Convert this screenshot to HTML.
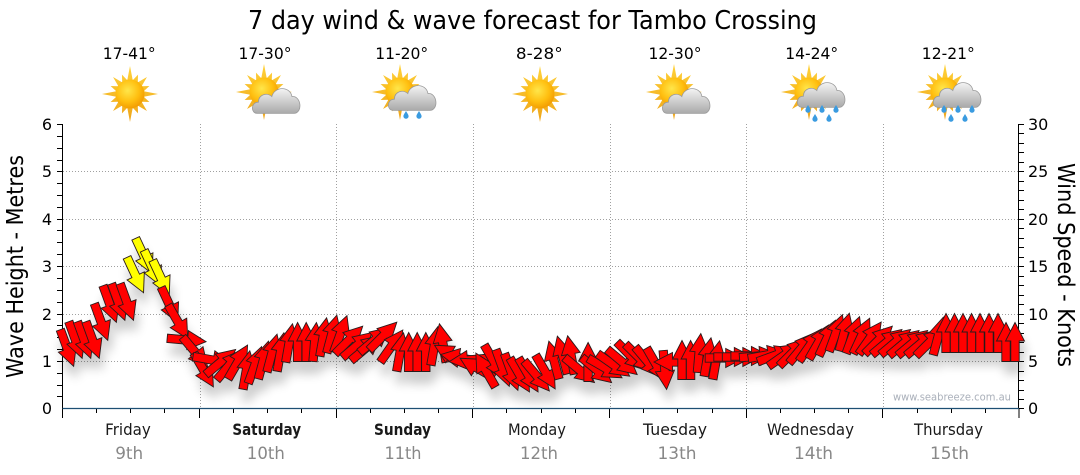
<!DOCTYPE html>
<html><head><meta charset="utf-8"><style>
html,body{margin:0;padding:0;background:#fff;}
svg{display:block;}
text{font-family:"DejaVu Sans","Liberation Sans",sans-serif;}
</style></head><body>
<svg width="1080" height="475" viewBox="0 0 1080 475" xmlns="http://www.w3.org/2000/svg">
<defs>
<polygon id="A" points="0,-19.5 9.5,-1 4.2,-1 4.2,19.5 -4.2,19.5 -4.2,-1 -9.5,-1"/>
<radialGradient id="sd" cx="0.42" cy="0.38" r="0.65">
<stop offset="0" stop-color="#ffe64a"/><stop offset="0.6" stop-color="#ffbf10"/><stop offset="1" stop-color="#f29a00"/>
</radialGradient>
<linearGradient id="ry" x1="0" y1="0" x2="0" y2="1">
<stop offset="0" stop-color="#ffd23a"/><stop offset="1" stop-color="#eea51a"/>
</linearGradient>
<linearGradient id="cl" x1="0" y1="0" x2="0" y2="1">
<stop offset="0" stop-color="#f4f4f4"/><stop offset="1" stop-color="#a9a9a9"/>
</linearGradient>
<g id="SUN">
<polygon fill="url(#ry)" points="0,-28 2.73,-13.73 8.04,-19.4 7.78,-11.64 16.97,-16.97 11.64,-7.78 19.4,-8.04 13.73,-2.73 28,0 13.73,2.73 19.4,8.04 11.64,7.78 16.97,16.97 7.78,11.64 8.04,19.4 2.73,13.73 0,28 -2.73,13.73 -8.04,19.4 -7.78,11.64 -16.97,16.97 -11.64,7.78 -19.4,8.04 -13.73,2.73 -28,0 -13.73,-2.73 -19.4,-8.04 -11.64,-7.78 -16.97,-16.97 -7.78,-11.64 -8.04,-19.4 -2.73,-13.73"/>
<circle r="14.5" fill="url(#sd)"/>
</g>
<g id="CLOUD">
<path fill="url(#cl)" stroke="#9a9a9a" stroke-width="0.7" d="M-6,20 C-12,20 -12,10 -5,10 C-5,3 3,1 7,5 C9,-4 23,-5 25,5 C33,4 35,19 27,20 Z"/>
</g>
<g id="DROP">
<path fill="#3a9be0" d="M0,-4 C1.5,-1.5 2.6,0 2.6,1.2 A2.6,2.6 0 0 1 -2.6,1.2 C-2.6,0 -1.5,-1.5 0,-4 Z"/>
</g>
<filter id="sh" filterUnits="userSpaceOnUse" x="0" y="0" width="1080" height="475">
<feGaussianBlur in="SourceAlpha" stdDeviation="5"/>
<feOffset dx="3" dy="12"/>
<feComponentTransfer><feFuncA type="linear" slope="0.2"/></feComponentTransfer>
<feMerge><feMergeNode/><feMergeNode in="SourceGraphic"/></feMerge>
</filter>
</defs>

<text x="532.5" y="29" font-size="26" text-anchor="middle" textLength="569" lengthAdjust="spacingAndGlyphs" fill="#000">7 day wind &amp; wave forecast for Tambo Crossing</text>

<g font-size="16" fill="#000" text-anchor="middle">
<text x="129.2" y="59" textLength="53" lengthAdjust="spacingAndGlyphs">17-41°</text>
<text x="265" y="59" textLength="53" lengthAdjust="spacingAndGlyphs">17-30°</text>
<text x="401.7" y="59" textLength="53" lengthAdjust="spacingAndGlyphs">11-20°</text>
<text x="539.3" y="59" textLength="46.7" lengthAdjust="spacingAndGlyphs">8-28°</text>
<text x="675" y="59" textLength="53" lengthAdjust="spacingAndGlyphs">12-30°</text>
<text x="811.7" y="59" textLength="53" lengthAdjust="spacingAndGlyphs">14-24°</text>
<text x="948.3" y="59" textLength="53" lengthAdjust="spacingAndGlyphs">12-21°</text>
</g>

<use href="#SUN" transform="translate(130,94)"/>
<use href="#SUN" transform="translate(264,92)"/><use href="#CLOUD" transform="translate(264,91) scale(1.12)"/>
<use href="#SUN" transform="translate(400,92)"/><use href="#CLOUD" transform="translate(400,88) scale(1.12)"/>
<use href="#DROP" transform="translate(406,115)"/><use href="#DROP" transform="translate(419,115)"/>
<use href="#SUN" transform="translate(540,94)"/>
<use href="#SUN" transform="translate(674,92)"/><use href="#CLOUD" transform="translate(674,91) scale(1.12)"/>
<use href="#SUN" transform="translate(809,92)"/><use href="#CLOUD" transform="translate(809,85) scale(1.12)"/>
<use href="#DROP" transform="translate(808,109)"/><use href="#DROP" transform="translate(822,109)"/><use href="#DROP" transform="translate(836,109)"/>
<use href="#DROP" transform="translate(815,118)"/><use href="#DROP" transform="translate(829,118)"/>
<use href="#SUN" transform="translate(945,92)"/><use href="#CLOUD" transform="translate(945,85) scale(1.12)"/>
<use href="#DROP" transform="translate(944,109)"/><use href="#DROP" transform="translate(958,109)"/><use href="#DROP" transform="translate(972,109)"/>
<use href="#DROP" transform="translate(951,118)"/><use href="#DROP" transform="translate(965,118)"/>

<g stroke="#a0a0a0" stroke-width="1" stroke-dasharray="1,2" fill="none">
<line x1="63" y1="361.5" x2="1018" y2="361.5"/>
<line x1="63" y1="314.5" x2="1018" y2="314.5"/>
<line x1="63" y1="266.5" x2="1018" y2="266.5"/>
<line x1="63" y1="219.5" x2="1018" y2="219.5"/>
<line x1="63" y1="171.5" x2="1018" y2="171.5"/>
<line x1="200.5" y1="124" x2="200.5" y2="408"/>
<line x1="336.5" y1="124" x2="336.5" y2="408"/>
<line x1="473.5" y1="124" x2="473.5" y2="408"/>
<line x1="610.5" y1="124" x2="610.5" y2="408"/>
<line x1="746.5" y1="124" x2="746.5" y2="408"/>
<line x1="883.5" y1="124" x2="883.5" y2="408"/>
</g>

<g stroke="#000" stroke-width="1">
<line x1="62.5" y1="124" x2="62.5" y2="418"/>
<line x1="1018.5" y1="124" x2="1018.5" y2="408"/>
<path d="M57,124.5h6M57,136.5h6M57,148.5h6M57,160.5h6M57,171.5h6M57,183.5h6M57,195.5h6M57,207.5h6M57,219.5h6M57,230.5h6M57,242.5h6M57,254.5h6M57,266.5h6M57,278.5h6M57,290.5h6M57,302.5h6M57,314.5h6M57,325.5h6M57,337.5h6M57,349.5h6M57,361.5h6M57,373.5h6M57,385.5h6M57,396.5h6"/>
<path d="M1018,124.5h6M1018,133.5h6M1018,143.5h6M1018,152.5h6M1018,162.5h6M1018,171.5h6M1018,181.5h6M1018,190.5h6M1018,200.5h6M1018,209.5h6M1018,219.5h6M1018,228.5h6M1018,238.5h6M1018,247.5h6M1018,257.5h6M1018,266.5h6M1018,276.5h6M1018,285.5h6M1018,295.5h6M1018,304.5h6M1018,314.5h6M1018,323.5h6M1018,333.5h6M1018,342.5h6M1018,352.5h6M1018,361.5h6M1018,371.5h6M1018,380.5h6M1018,390.5h6M1018,399.5h6M1018,408.5h6"/>
<path d="M199.5,408v10M336.5,408v10M472.5,408v10M609.5,408v10M746.5,408v10M882.5,408v10M1019,408v10"/>
<path d="M96.5,408v5M130.5,408v5M164.5,408v5M233.5,408v5M267.5,408v5M301.5,408v5M370.5,408v5M404.5,408v5M438.5,408v5M506.5,408v5M541.5,408v5M575.5,408v5M643.5,408v5M677.5,408v5M712.5,408v5M780.5,408v5M814.5,408v5M848.5,408v5M917.5,408v5M951.5,408v5M985.5,408v5"/>
</g>
<line x1="62.5" y1="408.5" x2="1019" y2="408.5" stroke="#1d4f73" stroke-width="1.3"/>

<g font-size="16" fill="#000" text-anchor="end">
<text x="52" y="414">0</text><text x="52" y="367">1</text><text x="52" y="320">2</text><text x="52" y="272">3</text><text x="52" y="225">4</text><text x="52" y="177">5</text><text x="52" y="130">6</text>
</g>
<g font-size="16" fill="#000" text-anchor="start">
<text x="1028" y="414">0</text><text x="1028" y="367">5</text><text x="1028" y="320">10</text><text x="1028" y="272">15</text><text x="1028" y="225">20</text><text x="1028" y="177">25</text><text x="1028" y="130">30</text>
</g>

<text transform="translate(23,266.5) rotate(-90)" font-size="23" text-anchor="middle" textLength="223" lengthAdjust="spacingAndGlyphs" fill="#000">Wave Height - Metres</text>
<text transform="translate(1058,265) rotate(90)" font-size="23" text-anchor="middle" textLength="204" lengthAdjust="spacingAndGlyphs" fill="#000">Wind Speed - Knots</text>

<text x="952" y="400.5" font-size="10.5" text-anchor="middle" textLength="118" lengthAdjust="spacingAndGlyphs" fill="#aab0ba">www.seabreeze.com.au</text>

<g font-size="16" fill="#1a1a1a" text-anchor="middle">
<text x="128" y="435" textLength="45.7" lengthAdjust="spacingAndGlyphs">Friday</text>
<text x="266.7" y="435" font-weight="bold" textLength="68.7" lengthAdjust="spacingAndGlyphs">Saturday</text>
<text x="402.5" y="435" font-weight="bold" textLength="57" lengthAdjust="spacingAndGlyphs">Sunday</text>
<text x="537" y="435" textLength="58" lengthAdjust="spacingAndGlyphs">Monday</text>
<text x="675" y="435" textLength="64" lengthAdjust="spacingAndGlyphs">Tuesday</text>
<text x="810.5" y="435" textLength="87" lengthAdjust="spacingAndGlyphs">Wednesday</text>
<text x="948.5" y="435" textLength="69" lengthAdjust="spacingAndGlyphs">Thursday</text>
</g>
<g font-size="17" fill="#888" text-anchor="middle">
<text x="129.2" y="459" textLength="28" lengthAdjust="spacingAndGlyphs">9th</text>
<text x="265.8" y="459" textLength="38" lengthAdjust="spacingAndGlyphs">10th</text>
<text x="403" y="459" textLength="37" lengthAdjust="spacingAndGlyphs">11th</text>
<text x="539" y="459" textLength="38" lengthAdjust="spacingAndGlyphs">12th</text>
<text x="677" y="459" textLength="39" lengthAdjust="spacingAndGlyphs">13th</text>
<text x="813.5" y="459" textLength="39" lengthAdjust="spacingAndGlyphs">14th</text>
<text x="949.5" y="459" textLength="39" lengthAdjust="spacingAndGlyphs">15th</text>
</g>

<g filter="url(#sh)" fill="#ff0000" stroke="#2a1a1a" stroke-width="0.9">
<use href="#A" transform="translate(67.0,348) rotate(160)"/>
<use href="#A" transform="translate(75.5,340) rotate(160)"/>
<use href="#A" transform="translate(84.1,340) rotate(160)"/>
<use href="#A" transform="translate(92.6,340) rotate(160)"/>
<use href="#A" transform="translate(101.1,322) rotate(160)"/>
<use href="#A" transform="translate(109.7,304) rotate(160)"/>
<use href="#A" transform="translate(118.2,302) rotate(160)"/>
<use href="#A" transform="translate(126.8,302) rotate(160)"/>
<use href="#A" transform="translate(135.3,275) rotate(155)" fill="#ffff00"/>
<use href="#A" transform="translate(143.9,256) rotate(155)" fill="#ffff00"/>
<use href="#A" transform="translate(152.4,268) rotate(155)" fill="#ffff00"/>
<use href="#A" transform="translate(161.0,278) rotate(155)" fill="#ffff00"/>
<use href="#A" transform="translate(169.5,305) rotate(155)"/>
<use href="#A" transform="translate(178.0,322) rotate(150)"/>
<use href="#A" transform="translate(186.6,340) rotate(95)"/>
<use href="#A" transform="translate(195.1,352) rotate(140)"/>
<use href="#A" transform="translate(203.6,370) rotate(150)"/>
<use href="#A" transform="translate(212.2,360) rotate(100)"/>
<use href="#A" transform="translate(220.7,362) rotate(50)"/>
<use href="#A" transform="translate(229.3,365) rotate(40)"/>
<use href="#A" transform="translate(237.8,362) rotate(30)"/>
<use href="#A" transform="translate(246.4,370) rotate(10)"/>
<use href="#A" transform="translate(254.9,365) rotate(20)"/>
<use href="#A" transform="translate(263.4,360) rotate(15)"/>
<use href="#A" transform="translate(272.0,353) rotate(15)"/>
<use href="#A" transform="translate(280.5,352) rotate(10)"/>
<use href="#A" transform="translate(289.1,343) rotate(10)"/>
<use href="#A" transform="translate(297.6,342) rotate(0)"/>
<use href="#A" transform="translate(306.2,342) rotate(0)"/>
<use href="#A" transform="translate(314.7,342) rotate(5)"/>
<use href="#A" transform="translate(323.2,337) rotate(10)"/>
<use href="#A" transform="translate(331.8,334) rotate(15)"/>
<use href="#A" transform="translate(340.3,334) rotate(20)"/>
<use href="#A" transform="translate(348.9,340) rotate(45)"/>
<use href="#A" transform="translate(357.4,345) rotate(50)"/>
<use href="#A" transform="translate(366.0,348) rotate(50)"/>
<use href="#A" transform="translate(374.5,340) rotate(50)"/>
<use href="#A" transform="translate(383.0,336) rotate(45)"/>
<use href="#A" transform="translate(391.6,346) rotate(35)"/>
<use href="#A" transform="translate(400.1,352) rotate(10)"/>
<use href="#A" transform="translate(408.7,352) rotate(0)"/>
<use href="#A" transform="translate(417.2,352) rotate(0)"/>
<use href="#A" transform="translate(425.8,352) rotate(0)"/>
<use href="#A" transform="translate(434.3,346) rotate(10)"/>
<use href="#A" transform="translate(442.8,343) rotate(-10)"/>
<use href="#A" transform="translate(451.4,355) rotate(-60)"/>
<use href="#A" transform="translate(459.9,358) rotate(-80)"/>
<use href="#A" transform="translate(468.5,360) rotate(-95)"/>
<use href="#A" transform="translate(477.0,368) rotate(-60)"/>
<use href="#A" transform="translate(485.6,370) rotate(-30)"/>
<use href="#A" transform="translate(494.1,362) rotate(150)"/>
<use href="#A" transform="translate(502.6,368) rotate(160)"/>
<use href="#A" transform="translate(511.2,372) rotate(160)"/>
<use href="#A" transform="translate(519.7,375) rotate(150)"/>
<use href="#A" transform="translate(528.3,375) rotate(150)"/>
<use href="#A" transform="translate(536.8,376) rotate(140)"/>
<use href="#A" transform="translate(545.4,372) rotate(150)"/>
<use href="#A" transform="translate(553.9,360) rotate(-15)"/>
<use href="#A" transform="translate(562.4,355) rotate(-15)"/>
<use href="#A" transform="translate(571.0,355) rotate(-10)"/>
<use href="#A" transform="translate(579.5,370) rotate(130)"/>
<use href="#A" transform="translate(588.1,362) rotate(0)"/>
<use href="#A" transform="translate(596.6,370) rotate(130)"/>
<use href="#A" transform="translate(605.1,368) rotate(120)"/>
<use href="#A" transform="translate(613.7,365) rotate(125)"/>
<use href="#A" transform="translate(622.2,362) rotate(130)"/>
<use href="#A" transform="translate(630.8,356) rotate(135)"/>
<use href="#A" transform="translate(639.3,358) rotate(135)"/>
<use href="#A" transform="translate(647.8,362) rotate(140)"/>
<use href="#A" transform="translate(656.4,365) rotate(150)"/>
<use href="#A" transform="translate(664.9,370) rotate(175)"/>
<use href="#A" transform="translate(673.5,362) rotate(-90)"/>
<use href="#A" transform="translate(682.0,360) rotate(0)"/>
<use href="#A" transform="translate(690.6,360) rotate(0)"/>
<use href="#A" transform="translate(699.1,353) rotate(5)"/>
<use href="#A" transform="translate(707.6,357) rotate(10)"/>
<use href="#A" transform="translate(716.2,360) rotate(10)"/>
<use href="#A" transform="translate(724.7,358) rotate(90)"/>
<use href="#A" transform="translate(733.3,357) rotate(90)"/>
<use href="#A" transform="translate(741.8,357) rotate(90)"/>
<use href="#A" transform="translate(750.4,356) rotate(90)"/>
<use href="#A" transform="translate(758.9,356) rotate(85)"/>
<use href="#A" transform="translate(767.4,355) rotate(80)"/>
<use href="#A" transform="translate(776.0,355) rotate(70)"/>
<use href="#A" transform="translate(784.5,355) rotate(55)"/>
<use href="#A" transform="translate(793.1,352) rotate(45)"/>
<use href="#A" transform="translate(801.6,348) rotate(40)"/>
<use href="#A" transform="translate(810.2,345) rotate(35)"/>
<use href="#A" transform="translate(818.7,342) rotate(30)"/>
<use href="#A" transform="translate(827.2,338) rotate(25)"/>
<use href="#A" transform="translate(835.8,333) rotate(20)"/>
<use href="#A" transform="translate(844.3,332) rotate(15)"/>
<use href="#A" transform="translate(852.9,335) rotate(20)"/>
<use href="#A" transform="translate(861.4,336) rotate(25)"/>
<use href="#A" transform="translate(870.0,338) rotate(35)"/>
<use href="#A" transform="translate(878.5,340) rotate(45)"/>
<use href="#A" transform="translate(887.0,342) rotate(50)"/>
<use href="#A" transform="translate(895.6,342) rotate(50)"/>
<use href="#A" transform="translate(904.1,343) rotate(50)"/>
<use href="#A" transform="translate(912.7,343) rotate(50)"/>
<use href="#A" transform="translate(921.2,343) rotate(50)"/>
<use href="#A" transform="translate(929.8,342) rotate(45)"/>
<use href="#A" transform="translate(938.3,336) rotate(15)"/>
<use href="#A" transform="translate(946.0,333) rotate(0)"/>
<use href="#A" transform="translate(954.5,333) rotate(0)"/>
<use href="#A" transform="translate(963.0,333) rotate(0)"/>
<use href="#A" transform="translate(971.5,333) rotate(0)"/>
<use href="#A" transform="translate(980.0,333) rotate(0)"/>
<use href="#A" transform="translate(989.0,333) rotate(0)"/>
<use href="#A" transform="translate(998.0,333) rotate(0)"/>
<use href="#A" transform="translate(1006.0,342) rotate(0)"/>
<use href="#A" transform="translate(1015.0,342) rotate(0)"/>
</g>
</svg>
</body></html>
